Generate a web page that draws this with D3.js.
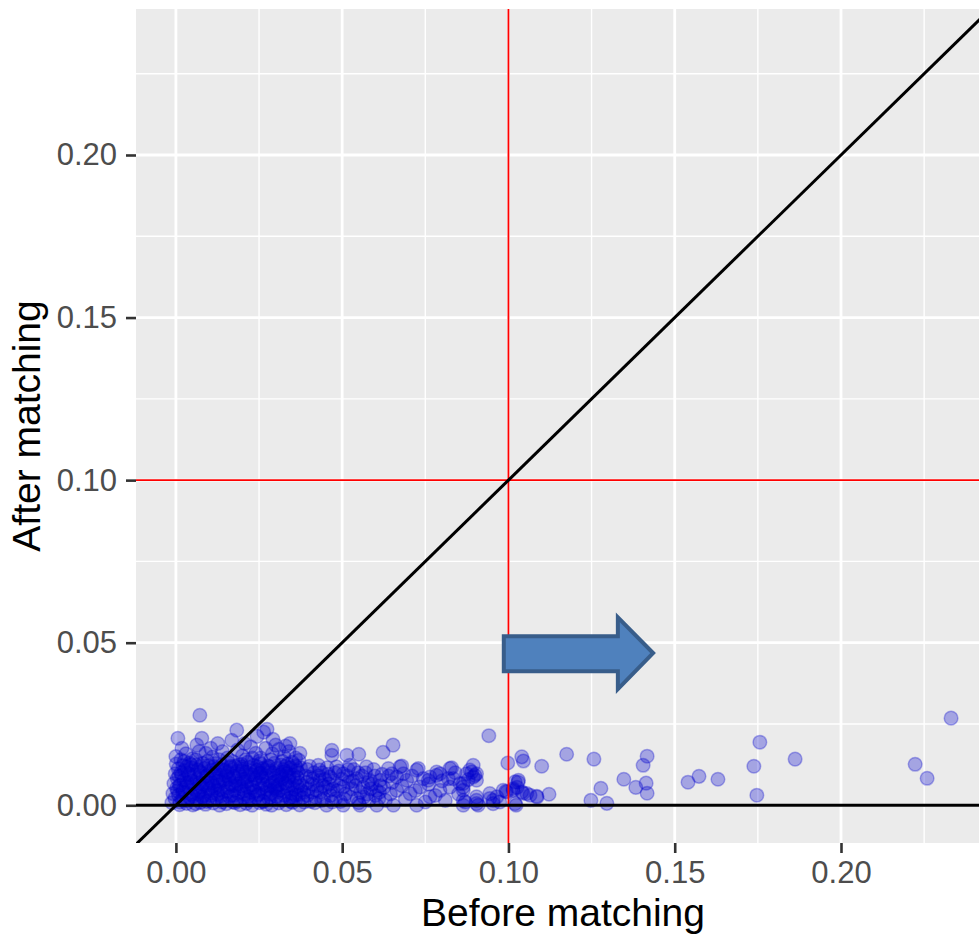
<!DOCTYPE html>
<html>
<head>
<meta charset="utf-8">
<script src="https://cdn.jsdelivr.net/npm/d3@7"></script>
<style>
  body { margin: 0; background: #fff; }
  svg { display: block; font-family: "Liberation Sans", Arial, sans-serif; }
</style>
</head>
<body>
<svg id="chart" width="979" height="935"></svg>
<script>
// tick values for both axes
const xTicks = [0, 0.05, 0.1, 0.15, 0.2];
const yTicks = [0, 0.05, 0.1, 0.15, 0.2];
const minorTicks = [0.025, 0.075, 0.125, 0.175, 0.225];

// reference lines
const cutoff = 0.1;

// core cluster (before, after)
const densePts = [
  [-0.0012,0.0008],[0.0011,0.0002],[0.0032,0.0006],[0.0051,0.0001],[0.0073,0.0009],[0.0089,0.0003],[0.0112,0.0007],[0.0131,0.0000],[0.0152,0.0005],[0.0171,0.0010],[0.0193,0.0002],[0.0212,0.0006],[0.0229,0.0000],[0.0251,0.0008],[0.0272,0.0003],[0.0288,0.0000],[0.0309,0.0007],[0.0332,0.0002],[0.0351,0.0009],[0.0372,0.0001],
  [-0.0003,0.0021],[0.0019,0.0016],[0.0041,0.0024],[0.0062,0.0018],[0.0079,0.0026],[0.0101,0.0015],[0.0122,0.0022],[0.0139,0.0019],[0.0161,0.0027],[0.0182,0.0014],[0.0203,0.0023],[0.0219,0.0017],[0.0241,0.0025],[0.0262,0.0013],[0.0279,0.0021],[0.0301,0.0028],[0.0318,0.0016],[0.0342,0.0022],[0.0361,0.0018],[0.0381,0.0024],
  [-0.0009,0.0036],[0.0008,0.0031],[0.0027,0.0039],[0.0046,0.0033],[0.0068,0.0041],[0.0084,0.0030],[0.0107,0.0037],[0.0126,0.0034],[0.0144,0.0042],[0.0166,0.0031],[0.0187,0.0038],[0.0206,0.0035],[0.0224,0.0040],[0.0246,0.0032],[0.0267,0.0039],[0.0284,0.0034],[0.0306,0.0041],[0.0326,0.0030],[0.0347,0.0037],[0.0369,0.0033],
  [0.0002,0.0052],[0.0021,0.0047],[0.0039,0.0055],[0.0058,0.0049],[0.0077,0.0056],[0.0096,0.0045],[0.0117,0.0053],[0.0134,0.0048],[0.0157,0.0054],[0.0176,0.0046],[0.0196,0.0051],[0.0214,0.0057],[0.0236,0.0044],[0.0256,0.0052],[0.0274,0.0049],[0.0296,0.0055],[0.0313,0.0047],[0.0337,0.0053],[0.0356,0.0050],[0.0377,0.0046],
  [-0.0006,0.0067],[0.0013,0.0062],[0.0034,0.0070],[0.0053,0.0064],[0.0071,0.0068],[0.0092,0.0061],[0.0109,0.0069],[0.0129,0.0063],[0.0148,0.0071],[0.0169,0.0060],[0.0189,0.0066],[0.0209,0.0072],[0.0227,0.0063],[0.0249,0.0068],[0.0269,0.0061],[0.0291,0.0070],[0.0311,0.0064],[0.0329,0.0067],[0.0352,0.0062],[0.0371,0.0069],
  [0.0004,0.0082],[0.0024,0.0077],[0.0043,0.0085],[0.0064,0.0079],[0.0082,0.0086],[0.0103,0.0076],[0.0121,0.0083],[0.0142,0.0078],[0.0159,0.0087],[0.0179,0.0075],[0.0199,0.0081],[0.0217,0.0088],[0.0238,0.0079],[0.0259,0.0084],[0.0277,0.0076],[0.0298,0.0083],[0.0319,0.0080],[0.0339,0.0086],[0.0358,0.0077],
  [-0.0002,0.0097],[0.0017,0.0092],[0.0036,0.0100],[0.0056,0.0094],[0.0074,0.0099],[0.0094,0.0091],[0.0114,0.0098],[0.0133,0.0093],[0.0153,0.0101],[0.0173,0.0090],[0.0191,0.0096],[0.0211,0.0102],[0.0232,0.0093],[0.0252,0.0098],[0.0271,0.0091],[0.0293,0.0099],[0.0314,0.0094],[0.0334,0.0097],[0.0354,0.0092],[0.0368,0.0100],
  [0.0007,0.0112],[0.0026,0.0107],[0.0047,0.0115],[0.0066,0.0109],[0.0086,0.0114],[0.0104,0.0106],[0.0124,0.0113],[0.0146,0.0108],[0.0163,0.0116],[0.0184,0.0105],[0.0201,0.0111],[0.0222,0.0117],[0.0243,0.0108],[0.0261,0.0113],[0.0282,0.0106],[0.0303,0.0114],[0.0323,0.0109],[0.0344,0.0115],[0.0363,0.0107],
  [0.0001,0.0127],[0.0021,0.0122],[0.0041,0.0130],[0.0061,0.0124],[0.0081,0.0129],[0.0099,0.0121],[0.0119,0.0128],[0.0138,0.0123],[0.0158,0.0131],[0.0178,0.0120],[0.0197,0.0126],[0.0216,0.0132],[0.0234,0.0123],[0.0254,0.0128],[0.0276,0.0121],[0.0296,0.0129],[0.0316,0.0124],[0.0336,0.0127],[0.0359,0.0122],
  [0.0012,0.0010],[0.0052,0.0028],[0.0093,0.0012],[0.0135,0.0029],[0.0178,0.0008],[0.0218,0.0027],[0.0262,0.0011],[0.0304,0.0026],[0.0345,0.0012],
  [0.0030,0.0058],[0.0072,0.0044],[0.0113,0.0060],[0.0155,0.0043],[0.0197,0.0059],[0.0240,0.0042],[0.0283,0.0060],[0.0325,0.0044],[0.0366,0.0058],
  [0.0009,0.0090],[0.0050,0.0074],[0.0091,0.0089],[0.0132,0.0073],[0.0174,0.0088],[0.0215,0.0074],[0.0257,0.0089],[0.0299,0.0073],[0.0341,0.0090],
  [0.0032,0.0118],[0.0073,0.0104],[0.0114,0.0119],[0.0156,0.0103],[0.0198,0.0118],[0.0239,0.0104],[0.0280,0.0119],[0.0321,0.0102],[0.0361,0.0118],
  [0.0020,0.0040],[0.0060,0.0005],[0.0100,0.0050],[0.0140,0.0010],[0.0180,0.0060],[0.0220,0.0015],[0.0260,0.0065],[0.0300,0.0050],[0.0340,0.0075],[0.0380,0.0060],
  [0.0040,0.0095],[0.0080,0.0065],[0.0120,0.0100],[0.0160,0.0080],[0.0200,0.0105],[0.0240,0.0085],[0.0280,0.0100],[0.0320,0.0088],[0.0360,0.0032],[0.0390,0.0090],
  [0.0010,0.0060],[0.0045,0.0125],[0.0085,0.0020],[0.0125,0.0075],[0.0165,0.0120],[0.0205,0.0045],[0.0245,0.0118],[0.0285,0.0025],[0.0330,0.0120],[0.0385,0.0010],
  [0.0005,0.0045],[0.0035,0.0015],[0.0065,0.0035],[0.0095,0.0070],[0.0125,0.0045],[0.0150,0.0090],[0.0175,0.0030],[0.0205,0.0080],[0.0230,0.0055],[0.0255,0.0100],[0.0285,0.0045],[0.0310,0.0090],[0.0335,0.0060],[0.0365,0.0085],[0.0385,0.0040],
  [0.0015,0.0100],[0.0045,0.0070],[0.0075,0.0120],[0.0105,0.0030],[0.0135,0.0110],[0.0165,0.0065],[0.0190,0.0125],[0.0225,0.0095],[0.0250,0.0035],[0.0275,0.0115],[0.0305,0.0060],[0.0330,0.0105],[0.0350,0.0025],[0.0375,0.0115],[0.0395,0.0070],
  [0.0025,0.0135],[0.0060,0.0140],[0.0095,0.0135],[0.0130,0.0140],[0.0170,0.0135],[0.0210,0.0140],[0.0250,0.0135],[0.0285,0.0140],[0.0320,0.0135],[0.0350,0.0132]
];

// upper fringe of the cluster
const fringePts = [
  [0.0006,0.0206],[0.0078,0.0206],[0.0183,0.0231],[0.0274,0.0234],[0.0292,0.0203],[0.0244,0.0212],[0.0018,0.0175],[0.0063,0.0185],
  [0.0126,0.0190],[0.0168,0.0200],[0.0343,0.0190],[0.0373,0.0160],[0.0072,0.0277],[0.0207,0.0190],[0.0264,0.0225],
  [0.0000,0.0150],[0.0030,0.0158],[0.0050,0.0143],[0.0090,0.0160],[0.0110,0.0148],[0.0140,0.0165],[0.0155,0.0145],[0.0185,0.0170],
  [0.0200,0.0152],[0.0225,0.0180],[0.0240,0.0160],[0.0255,0.0145],[0.0270,0.0175],[0.0290,0.0158],[0.0310,0.0172],[0.0325,0.0150],
  [0.0340,0.0165],[0.0360,0.0145],[0.0015,0.0140],[0.0070,0.0165],[0.0105,0.0175],[0.0230,0.0145],[0.0300,0.0185],[0.0370,0.0138],[0.0330,0.0182]
];

// middle band, 0.04 to 0.10
const midPts = [
  [0.0428,0.0123],[0.0483,0.0118],[0.0523,0.0123],[0.0573,0.0118],[0.0639,0.0113],[0.0674,0.0118],[0.0724,0.0108],[0.0784,0.0102],
  [0.0824,0.0113],[0.0884,0.0108],[0.0894,0.0123],[0.0469,0.0169],[0.0469,0.0154],[0.0514,0.0154],[0.0550,0.0157],[0.0623,0.0163],[0.0653,0.0185],
  [0.0403,0.0087],[0.0433,0.0077],[0.0463,0.0087],[0.0503,0.0097],[0.0543,0.0082],[0.0583,0.0077],[0.0614,0.0077],[0.0664,0.0087],
  [0.0694,0.0077],[0.0744,0.0082],[0.0764,0.0087],[0.0794,0.0097],[0.0834,0.0082],[0.0864,0.0067],[0.0894,0.0087],[0.0904,0.0097],
  [0.0423,0.0046],[0.0463,0.0046],[0.0503,0.0056],[0.0563,0.0056],[0.0604,0.0046],[0.0664,0.0046],[0.0704,0.0036],[0.0734,0.0056],
  [0.0764,0.0026],[0.0794,0.0046],[0.0824,0.0056],[0.0864,0.0046],[0.0904,0.0026],[0.0944,0.0036],[0.0965,0.0026],[0.0984,0.0046],
  [0.0453,0.0000],[0.0503,0.0000],[0.0553,0.0000],[0.0604,0.0000],[0.0654,0.0000],[0.0724,0.0000],[0.0864,0.0000],[0.0904,0.0005],[0.0954,0.0015],
  [0.0395,0.0110],[0.0410,0.0065],[0.0420,0.0025],[0.0440,0.0100],[0.0450,0.0055],[0.0475,0.0075],[0.0480,0.0020],[0.0490,0.0105],
  [0.0510,0.0035],[0.0520,0.0070],[0.0535,0.0110],[0.0545,0.0020],[0.0560,0.0090],[0.0575,0.0035],[0.0590,0.0065],[0.0595,0.0110],
  [0.0610,0.0020],[0.0625,0.0055],[0.0640,0.0090],[0.0395,0.0030],[0.0405,0.0012],[0.0435,0.0040],[0.0455,0.0115],[0.0470,0.0010],
  [0.0500,0.0080],[0.0530,0.0050],[0.0550,0.0008],[0.0570,0.0100],[0.0600,0.0030],[0.0630,0.0015],[0.0650,0.0070],[0.0680,0.0060],
  [0.0690,0.0020],[0.0710,0.0090],[0.0720,0.0045],[0.0750,0.0010],[0.0760,0.0065],[0.0780,0.0030],[0.0800,0.0075],[0.0810,0.0015],
  [0.0840,0.0100],[0.0850,0.0035],[0.0870,0.0010],[0.0679,0.0121],[0.0729,0.0113],[0.0649,0.0097],[0.0684,0.0097],[0.0829,0.0115],
  [0.0784,0.0092],[0.0819,0.0082],[0.0759,0.0077],[0.0874,0.0097],[0.0889,0.0102],[0.0899,0.0092],[0.0904,0.0077],[0.0879,0.0079],
  [0.0854,0.0067],[0.0864,0.0056],[0.0864,0.0015],[0.0904,0.0015],[0.0944,0.0021],[0.0954,0.0005],[0.0974,0.0010],[0.0909,0.0000],
  [0.0410,0.0040],[0.0430,0.0090],[0.0445,0.0020],[0.0460,0.0065],[0.0485,0.0045],[0.0495,0.0012],[0.0515,0.0090],[0.0525,0.0025],
  [0.0540,0.0060],[0.0555,0.0040],[0.0580,0.0015],[0.0585,0.0050],[0.0615,0.0060],[0.0620,0.0095],[0.0645,0.0035],
  [0.0415,0.0100],[0.0425,0.0060],[0.0438,0.0015],[0.0448,0.0080],[0.0465,0.0030],[0.0478,0.0100],[0.0492,0.0060],[0.0505,0.0020],
  [0.0518,0.0110],[0.0532,0.0075],[0.0548,0.0100],[0.0565,0.0025],[0.0578,0.0070],[0.0598,0.0090],[0.0612,0.0040],
  [0.0398,0.0050],[0.0402,0.0120],[0.0412,0.0082],[0.0418,0.0008],[0.0432,0.0108],[0.0442,0.0060],[0.0458,0.0095],[0.0472,0.0050]
];

// sparse points around and past the 0.10 cutoff
const sparsePts = [
  [0.0941,0.0214],[0.0998,0.0130],[0.1040,0.0149],[0.1045,0.0136],[0.1100,0.0120],[0.1175,0.0157],
  [0.0992,0.0043],[0.1023,0.0000],[0.1014,0.0046],[0.1029,0.0071],[0.1026,0.0055],[0.1044,0.0037],[0.1065,0.0031],[0.1086,0.0025],[0.1122,0.0034],
  [0.1020,0.0072],[0.1030,0.0077],[0.1014,0.0051],[0.1040,0.0041],[0.1055,0.0036],[0.1085,0.0028],[0.1020,0.0005],[0.0995,0.0041],
  [0.1257,0.0142],[0.1417,0.0151],[0.1405,0.0123],[0.1347,0.0080],[0.1383,0.0055],[0.1414,0.0068],[0.1417,0.0037],
  [0.1278,0.0052],[0.1248,0.0015],[0.1296,0.0006],[0.1540,0.0071],[0.1573,0.0089],[0.1630,0.0080],
  [0.1756,0.0194],[0.1738,0.0120],[0.1747,0.0031],[0.1862,0.0142],[0.2223,0.0126],[0.2259,0.0083],[0.2331,0.0268]
];

const allPts = densePts.concat(fringePts, midPts, sparsePts);

const svg = d3.select("#chart");
const panel = { left: 136, right: 979, top: 9, bottom: 843 };

const x = d3.scaleLinear().domain([-0.012, 0.2415]).range([panel.left, panel.right]);
const y = d3.scaleLinear().domain([-0.0116, 0.2449]).range([panel.bottom, panel.top]);

const defs = svg.append("defs");
defs.append("clipPath").attr("id", "clip")
  .append("rect")
  .attr("x", panel.left).attr("y", panel.top)
  .attr("width", panel.right - panel.left).attr("height", panel.bottom - panel.top);

// panel background
svg.append("rect")
  .attr("x", panel.left).attr("y", panel.top)
  .attr("width", panel.right - panel.left).attr("height", panel.bottom - panel.top)
  .attr("fill", "#EBEBEB");

const grid = svg.append("g").attr("clip-path", "url(#clip)");

// minor grid
grid.selectAll(".vminor").data(minorTicks).enter().append("line")
  .attr("x1", d => x(d)).attr("x2", d => x(d))
  .attr("y1", panel.top).attr("y2", panel.bottom)
  .attr("stroke", "#fff").attr("stroke-width", 1.4);
grid.selectAll(".hminor").data(minorTicks).enter().append("line")
  .attr("y1", d => y(d)).attr("y2", d => y(d))
  .attr("x1", panel.left).attr("x2", panel.right)
  .attr("stroke", "#fff").attr("stroke-width", 1.4);

// major grid
grid.selectAll(".vmajor").data(xTicks).enter().append("line")
  .attr("x1", d => x(d)).attr("x2", d => x(d))
  .attr("y1", panel.top).attr("y2", panel.bottom)
  .attr("stroke", "#fff").attr("stroke-width", 2.8);
grid.selectAll(".hmajor").data(yTicks).enter().append("line")
  .attr("y1", d => y(d)).attr("y2", d => y(d))
  .attr("x1", panel.left).attr("x2", panel.right)
  .attr("stroke", "#fff").attr("stroke-width", 2.8);

const marks = svg.append("g").attr("clip-path", "url(#clip)");

// points
marks.append("g").selectAll("circle")
  .data(allPts)
  .enter()
  .append("circle")
  .attr("cx", d => x(d[0]))
  .attr("cy", d => y(d[1]))
  .attr("r", 6.8)
  .attr("fill", "#0000CD")
  .attr("fill-opacity", 0.3)
  .attr("stroke", "#0000CD")
  .attr("stroke-opacity", 0.3)
  .attr("stroke-width", 1.5);

// red cutoff lines
marks.append("line")
  .attr("x1", x(cutoff)).attr("x2", x(cutoff))
  .attr("y1", panel.top).attr("y2", panel.bottom)
  .attr("stroke", "#FF0000").attr("stroke-width", 1.8);
marks.append("line")
  .attr("x1", panel.left).attr("x2", panel.right)
  .attr("y1", y(cutoff)).attr("y2", y(cutoff))
  .attr("stroke", "#FF0000").attr("stroke-width", 1.8);

// y = 0 and y = x
marks.append("line")
  .attr("x1", panel.left).attr("x2", panel.right)
  .attr("y1", y(0)).attr("y2", y(0))
  .attr("stroke", "#000").attr("stroke-width", 3);
marks.append("line")
  .attr("x1", x(-0.02)).attr("y1", y(-0.02))
  .attr("x2", x(0.3)).attr("y2", y(0.3))
  .attr("stroke", "#000").attr("stroke-width", 3);

// block arrow annotation (drawn in data units)
const arrow = [
  [0.0986, 0.0520], [0.1329, 0.0520], [0.1329, 0.0578], [0.1435, 0.0468],
  [0.1329, 0.0357], [0.1329, 0.0412], [0.0986, 0.0412]
];
svg.append("polygon")
  .attr("points", arrow.map(p => [x(p[0]), y(p[1])].join(",")).join(" "))
  .attr("fill", "#4F81BD")
  .attr("stroke", "#385D8A")
  .attr("stroke-width", 4)
  .attr("stroke-linejoin", "miter");

// axes
const xAxis = d3.axisBottom(x).tickValues(xTicks).tickFormat(d3.format(".2f")).tickSize(10).tickPadding(8);
const yAxis = d3.axisLeft(y).tickValues(yTicks).tickFormat(d3.format(".2f")).tickSize(10).tickPadding(9);

const gx = svg.append("g").attr("transform", `translate(0,${panel.bottom})`).call(xAxis);
const gy = svg.append("g").attr("transform", `translate(${panel.left},0)`).call(yAxis);

[gx, gy].forEach(g => {
  g.select(".domain").remove();
  g.selectAll(".tick line").attr("stroke", "#333333").attr("stroke-width", 2.6);
  g.selectAll(".tick text")
    .attr("fill", "#4D4D4D")
    .style("font-size", "31px")
    .style("font-family", "'Liberation Sans', Arial, sans-serif");
});

// axis titles
svg.append("text")
  .attr("x", 563).attr("y", 926)
  .attr("text-anchor", "middle")
  .style("font-size", "39px")
  .attr("fill", "#000")
  .text("Before matching");

svg.append("text")
  .attr("transform", "translate(40,426) rotate(-90)")
  .attr("text-anchor", "middle")
  .style("font-size", "39px")
  .attr("fill", "#000")
  .text("After matching");
</script>
</body>
</html>
